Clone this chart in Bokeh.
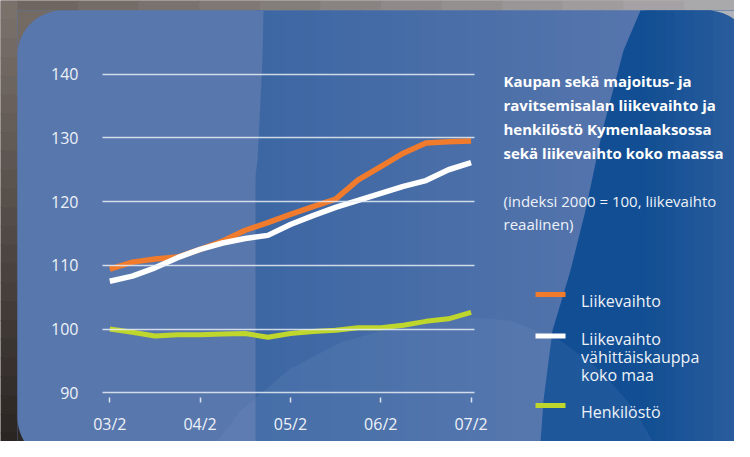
import numpy as np
from bokeh.plotting import figure
from bokeh.models import Range1d, LinearAxis, FixedTicker, Label
from bokeh.embed import file_html
from bokeh.resources import INLINE

# ---------------- data (quarterly index, 2000 = 100) ----------------
quarters = list(range(17))                      # 03/2 ... 07/2
x_tick_pos = [0, 4, 8, 12, 16]
x_tick_labels = ["03/2", "04/2", "05/2", "06/2", "07/2"]
y_ticks = [90, 100, 110, 120, 130, 140]

liikevaihto = [109.4, 110.5, 111.0, 111.3, 112.5, 113.8, 115.5, 116.7, 118.0,
               119.2, 120.4, 123.4, 125.5, 127.6, 129.2, 129.4, 129.5]
liikevaihto_koko_maa = [107.5, 108.3, 109.6, 111.2, 112.5, 113.5, 114.2, 114.7, 116.4,
                        117.8, 119.1, 120.2, 121.3, 122.4, 123.3, 125.0, 126.1]
henkilosto = [100.0, 99.5, 98.9, 99.1, 99.1, 99.2, 99.3, 98.7, 99.3,
              99.6, 99.8, 100.2, 100.2, 100.6, 101.2, 101.6, 102.6]

title_lines = ["Kaupan sekä majoitus- ja", "ravitsemisalan liikevaihto ja",
               "henkilöstö Kymenlaaksossa", "sekä liikevaihto koko maassa"]
subtitle_lines = ["(indeksi 2000 = 100, liikevaihto", "reaalinen)"]
legend_labels = [["Liikevaihto"], ["Liikevaihto", "vähittäiskauppa", "koko maa"], ["Henkilöstö"]]
series_colors = ["#f07b2c", "#ffffff", "#bfd62c"]

# ---------------- layout ----------------
W, H = 734, 441
K = 22.58          # px per quarter
M = 6.37           # px per index point
Q0_PX = 109.3      # canvas x of first quarter
Y100_PX = 328.5    # canvas y of index 100
x_start = -Q0_PX / K
x_end = x_start + W / K
y_end = 100 + Y100_PX / M
y_start = y_end - H / M


def dx(px):
    return x_start + px / K


def dy(py):
    return y_end - py / M


p = figure(width=W, height=H, x_range=Range1d(x_start, x_end), y_range=Range1d(y_start, y_end),
           output_backend="svg", toolbar_location=None, x_axis_type=None, y_axis_type=None,
           min_border=0, outline_line_color=None,
           background_fill_color="#5f5650", border_fill_color="#5f5650")
p.extra_x_ranges = {"px": Range1d(0, W)}
p.extra_y_ranges = {"px": Range1d(H, 0)}
PX = dict(x_range_name="px", y_range_name="px")


def lerp_col(c0, c1, t):
    a = [int(c0[i:i + 2], 16) for i in (1, 3, 5)]
    b = [int(c1[i:i + 2], 16) for i in (1, 3, 5)]
    return "#%02x%02x%02x" % tuple(int(round(a[i] + (b[i] - a[i]) * t)) for i in range(3))


# outer frame texture (left column gradient, top strip)
n = 24
ys = np.linspace(0, H + 10, n + 1)
p.quad(left=0, right=17.5, top=ys[:-1], bottom=ys[1:] + 1,
       fill_color=[lerp_col("#7a716b", "#2a2422", i / (n - 1)) for i in range(n)],
       line_color=None, **PX)
n = 12
xs = np.linspace(17, W + 10, n + 1)
p.quad(left=xs[:-1], right=xs[1:] + 1, top=0, bottom=10.5,
       fill_color=[lerp_col("#6f6660", "#a9a8ab", i / (n - 1)) for i in range(n)],
       line_color=None, **PX)

# base blue panel (light)
p.quad(left=17, right=760, top=10, bottom=470, fill_color="#5877ad", line_color=None, **PX)

# middle band gradient
n = 26
xs = np.linspace(255, 645, n + 1)
p.quad(left=xs[:-1], right=xs[1:] + 1, top=10, bottom=470,
       fill_color=[lerp_col("#3d67a3", "#5675ad", i / (n - 1)) for i in range(n)],
       line_color=None, **PX)

# left light wedge
wx = [17, 263, 262, 257, 250, 241, 225, 210, 200, 188, 175, 170, 17]
wy = [10, 10, 60, 160, 210, 265, 320, 370, 397, 425, 450, 470, 470]
p.patch(wx, wy, fill_color="#5877ad", line_color=None, **PX)

# right dark region
kx = [640, 623, 602, 585, 570, 552, 543, 538, 760, 760]
ky = [10, 50, 130, 210, 270, 330, 400, 470, 470, 10]
p.patch(kx, ky, fill_color="#114e93", line_color=None, **PX)
n = 12
xs = np.linspace(645, 760, n + 1)
p.quad(left=xs[:-1], right=xs[1:] + 1, top=10, bottom=470,
       fill_color=[lerp_col("#134f93", "#2f60a0", i / (n - 1)) for i in range(n)],
       line_color=None, **PX)

# soft lighter arc at the bottom
ax_ = [195, 240, 290, 340, 400, 460, 510, 560, 600, 635, 668]
ay_ = [470, 410, 368, 342, 325, 316, 320, 340, 370, 410, 470]
p.patch(ax_, ay_, fill_color="#8aa4cf", fill_alpha=0.12, line_color=None, **PX)

# rounded-corner masks
r = 45
L, T, R, B = 17, 10, 752, 462
corners = [((L + r, T + r), 90, 180, (L, T), "#736a64"),
           ((R - r, T + r), 0, 90, (R, T), "#b0b3b9"),
           ((L + r, B - r), 180, 270, (L, B), "#2c2624"),
           ((R - r, B - r), 270, 360, (R, B), "#c6c6c8")]
mx, my, mc = [], [], []
for (cx, cy), a0, a1, (ox, oy), col in corners:
    t = np.radians(np.linspace(a0, a1, 24))
    mx.append(list(cx + r * np.cos(t)) + [ox])
    my.append(list(cy - r * np.sin(t)) + [oy])
    mc.append(col)
p.patches(mx, my, fill_color=mc, line_color=None, **PX)

# ---------------- axes (fixed inside the frame) ----------------
yaxis = LinearAxis(fixed_location=dx(102), ticker=FixedTicker(ticks=y_ticks),
                   axis_line_color=None, major_tick_in=372, major_tick_out=0,
                   major_tick_line_color="#e8edf5", major_tick_line_alpha=0.85,
                   major_tick_line_width=1.5, minor_tick_line_color=None,
                   major_label_standoff=24, major_label_text_color="#eef2f8",
                   major_label_text_font="Open Sans", major_label_text_font_size="16px")
p.add_layout(yaxis, "left")

xaxis = LinearAxis(fixed_location=dy(396.5), ticker=FixedTicker(ticks=x_tick_pos),
                   major_label_overrides={t: lab for t, lab in zip(x_tick_pos, x_tick_labels)},
                   axis_line_color=None, major_tick_in=0, major_tick_out=5,
                   major_tick_line_color="#dde3ef", major_tick_line_width=1.5,
                   minor_tick_line_color=None, major_label_standoff=11,
                   major_label_text_color="#eef2f8",
                   major_label_text_font="Open Sans", major_label_text_font_size="16px")
p.add_layout(xaxis, "below")

# ---------------- series ----------------
p.line(quarters, liikevaihto, line_color=series_colors[0], line_width=5.5)
p.line(quarters, liikevaihto_koko_maa, line_color=series_colors[1], line_width=5.5)
p.line(quarters, henkilosto, line_color=series_colors[2], line_width=5)

# ---------------- titles ----------------
for i, txt in enumerate(title_lines):
    p.add_layout(Label(x=503, y=80 + 24 * i, text=txt, text_baseline="alphabetic",
                       text_font="Open Sans", text_font_style="bold", text_font_size="15px",
                       text_color="white", **PX))
for i, txt in enumerate(subtitle_lines):
    p.add_layout(Label(x=503, y=200 + 23 * i, text=txt, text_baseline="alphabetic",
                       text_font="Open Sans", text_font_size="15px",
                       text_color="#eef2f8", **PX))

# ---------------- legend ----------------
swatch_y = [294, 335.5, 405]
label_base = [300, 338.5, 411.5]
p.segment(x0=[535] * 3, x1=[565] * 3, y0=swatch_y, y1=swatch_y,
          line_color=series_colors, line_width=5, **PX)
for lines, yb in zip(legend_labels, label_base):
    for j, txt in enumerate(lines):
        p.add_layout(Label(x=580.5, y=yb + 18 * j, text=txt, text_baseline="alphabetic",
                           text_font="Open Sans", text_font_size="16px",
                           text_color="#eef2f8", **PX))

open("out.html", "w").write(file_html(p, INLINE))
